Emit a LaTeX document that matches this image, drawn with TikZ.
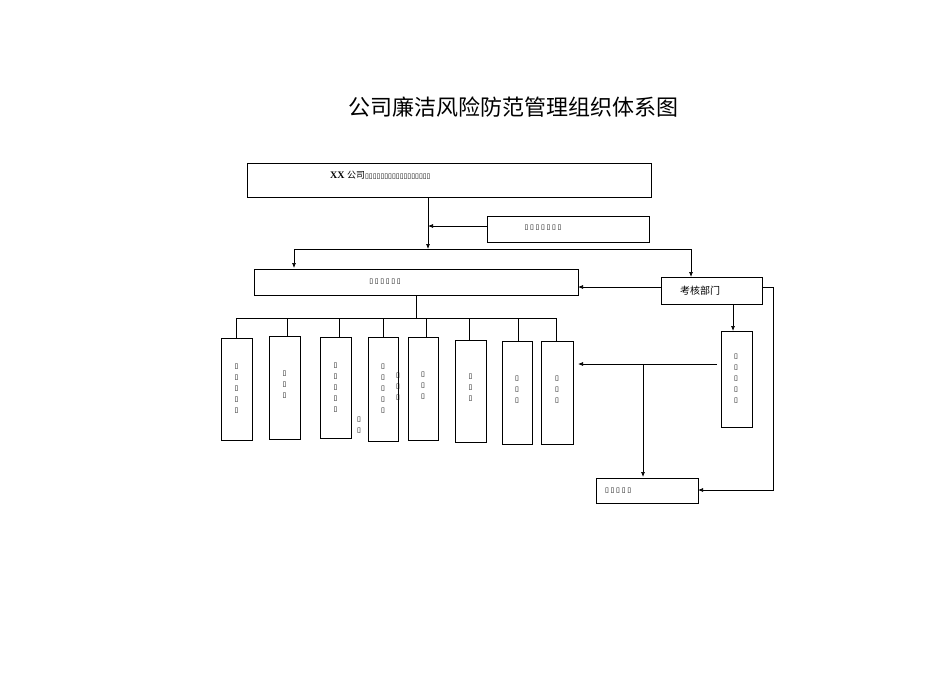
\documentclass[tikz,border=0pt]{standalone}
\usepackage{fontspec}
\newfontfamily\cjk{Noto Sans CJK SC}
\newfontfamily\dv{DejaVu Sans}
\setmainfont{Liberation Serif}
\newcommand{\tf}{{\dv\fontsize{7}{7}\selectfont ▯}}
\begin{document}
\begin{tikzpicture}[x=1pt,y=-1pt,
  bx/.style={draw,line width=0.7pt,inner sep=0},
  ln/.style={line width=0.7pt},
  ar/.style={ln,-{Latex[length=5pt,width=4pt]}},
  vt/.style={align=center,font=\dv\fontsize{7}{11}\selectfont,inner sep=0}]
\usetikzlibrary{arrows.meta}
\useasboundingbox (0,0) rectangle (950,672);
\node[font=\cjk\fontsize{22}{22}\selectfont] (title) at (513,107) {公司廉洁风险防范管理组织体系图};
\draw[bx] (247,163) rectangle (651,197);
\coordinate (b1) at (428,197);
\node[anchor=west,inner sep=0] (t1) at (330,175) {\textbf{XX} {\cjk\small 公司}\tf\tf\tf\tf\tf\tf\tf\tf\tf\tf\tf\tf\tf\tf\tf\tf\tf};
\draw[bx] (487,216) rectangle (649,242);
\node[inner sep=0] (t2) at (543,228) {\tf\,\tf\,\tf\,\tf\,\tf\,\tf\,\tf};
\coordinate (b2l) at (487,226);
\coordinate (j1) at (428,249);
\draw[ar] (b1) -- (j1);
\draw[ar] (b2l) -- (428,226);
\draw[ln] (294,249) -- (691,249);
\draw[ar] (294,249) -- (294,268);
\draw[ar] (691,249) -- (691,277);
\draw[bx] (254,269) rectangle (578,295);
\node[inner sep=0] (t3) at (385,282) {\tf\,\tf\,\tf\,\tf\,\tf\,\tf};
\draw[bx] (661,277) rectangle (762,304);
\node[font=\cjk\fontsize{10}{10}\selectfont] (t4) at (700,291) {考核部门};
\draw[ar] (661,287) -- (578,287);
\draw[ar] (762,287) -- (773,287) -- (773,490) -- (698,490);
\draw[bx] (596,478) rectangle (698,503);
\node[anchor=west,inner sep=0] (t5) at (605,491) {\tf\,\tf\,\tf\,\tf\,\tf};
\draw[ar] (733,304) -- (733,331);
\draw[bx] (721,331) rectangle (752,427);
\node[vt] (t6) at (736,379) {▯\\▯\\▯\\▯\\▯};
\draw[ar] (717,364) -- (578,364);
\draw[ar] (643,364) -- (643,477);
\draw[ln] (416,295) -- (416,318);
\draw[ln] (236,318) -- (556,318);
\foreach \a/\b/\c/\d/\m/\n in {221/338/252/440/236/5,269/336/300/439/287/3,320/337/351/438/339/5,368/337/398/441/383/5,408/337/438/440/426/3,455/340/486/442/469/3,502/341/532/444/518/3,541/341/573/444/556/3}{
  \draw[ln] (\m,318) -- (\m,\b);
  \draw[bx] (\a,\b) rectangle (\c,\d);
  \ifnum\n=5
    \node[vt] at ({(\a+\c)/2},{(\b+\d)/2}) {▯\\▯\\▯\\▯\\▯};
  \else
    \node[vt] at ({(\a+\c)/2},{(\b+\d)/2-3}) {▯\\▯\\▯};
  \fi
}
\node[vt] (s1) at (359,425) {▯\\▯};
\node[vt] (s2) at (398,387) {▯\\▯\\▯};
\end{tikzpicture}
\end{document}
